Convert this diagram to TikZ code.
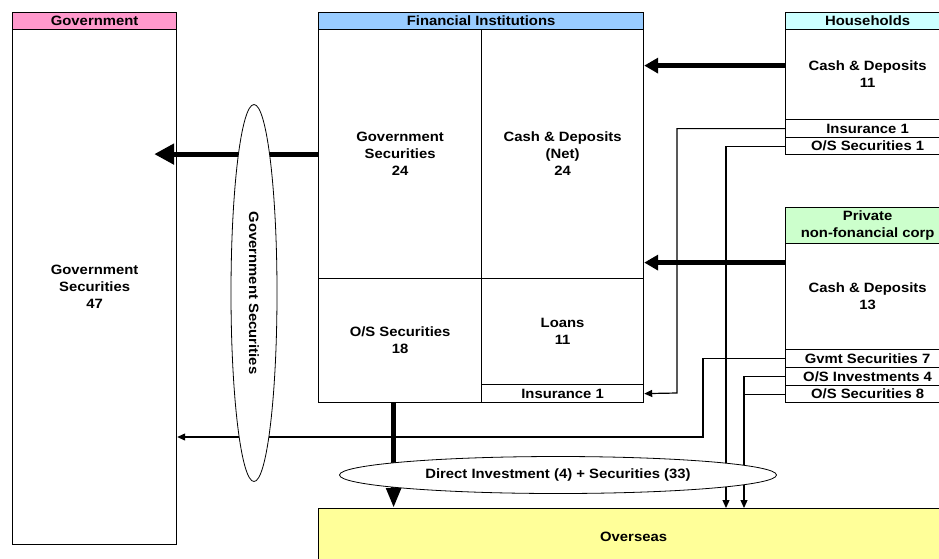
\documentclass[tikz,border=0pt]{standalone}
\usepackage{fontspec}
\setmainfont{Liberation Sans}[FakeStretch=1.1]
\usetikzlibrary{shapes.geometric,arrows.meta}
\definecolor{govpink}{HTML}{FF99CC}
\definecolor{fiblue}{HTML}{99CCFF}
\definecolor{hhcyan}{HTML}{CCFFFF}
\definecolor{pcgreen}{HTML}{CCFFCC}
\definecolor{osyellow}{HTML}{FFFF99}
\begin{document}
\begin{tikzpicture}[x=1pt,y=-1pt,
	font=\bfseries\fontsize{13.5}{17}\selectfont,
	box/.style={draw, line width=1.2pt, fill=white, anchor=north west, inner sep=0pt, align=center},
	thinarrow/.style={line width=1.2pt, -{Triangle[length=8pt,width=7pt]}},
	thinline/.style={line width=1.2pt},
	bigarrow/.style={line width=4.5pt, -{Triangle[length=14pt,width=15pt]}},
	oval/.style={draw, ellipse, line width=0.8pt, fill=white, inner sep=0pt}]
	\clip (0,0) rectangle (939,558);

	% government
	\node[box, fill=govpink, minimum width=164, minimum height=17] (govh) at (12,12) {Government};
	\node[box, minimum width=164, minimum height=515] (govb) at (12,29) {Government\\Securities\\47};

	% financial institutions
	\node[box, fill=fiblue, minimum width=325, minimum height=17] (fih) at (318,12) {Financial Institutions};
	\node[box, minimum width=163, minimum height=249] (figs) at (318,29) {Government\\Securities\\24};
	\node[box, minimum width=162, minimum height=249] (ficd) at (481,29) {Cash \& Deposits\\(Net)\\24};
	\node[box, minimum width=163, minimum height=124] (fios) at (318,278) {O/S Securities\\18};
	\node[box, minimum width=162, minimum height=106] (filn) at (481,278) {Loans\\11};
	\node[box, minimum width=162, minimum height=18] (fiins) at (481,384) {Insurance 1};

	% households
	\node[box, fill=hhcyan, minimum width=164, minimum height=17] (hhh) at (785,12) {Households};
	\node[box, minimum width=164, minimum height=90] (hhb) at (785,29) {Cash \& Deposits\\11};
	\node[box, minimum width=164, minimum height=18] (hhins) at (785,119) {Insurance 1};
	\node[box, minimum width=164, minimum height=17] (hhos) at (785,137) {O/S Securities 1};

	% private non-financial corporations
	\node[box, fill=pcgreen, minimum width=164, minimum height=36] (pch) at (785,207) {Private\\non-fonancial corp};
	\node[box, minimum width=164, minimum height=106] (pcb) at (785,243) {Cash \& Deposits\\13};
	\node[box, minimum width=164, minimum height=18] (pgs) at (785,349) {Gvmt Securities 7};
	\node[box, minimum width=164, minimum height=18] (poi) at (785,367) {O/S Investments 4};
	\node[box, minimum width=164, minimum height=17] (pos) at (785,385) {O/S Securities 8};

	% overseas
	\node[box, fill=osyellow, minimum width=630, minimum height=56] (os) at (318,508) {Overseas};

	% thin flows
	\coordinate (j1) at (677,393);
	\coordinate (j2) at (703,437);
	\coordinate (d1) at (726,508);
	\coordinate (d2) at (744,508);
	\draw[thinarrow] (hhins.west) -| (j1) -- (fiins.east);
	\draw[thinarrow] (hhos.west) -| (d1);
	\draw[thinarrow] (pgs.west) -| (j2) -- (j2 -| govb.east);
	\draw[thinarrow] (poi.west) -| (d2);
	\draw[thinline] (pos.west) -- (pos.west -| d2);

	% thick flows
	\draw[bigarrow] ([yshift=9pt]hhb.west) -- ([yshift=9pt]hhb.west -| ficd.east);
	\draw[bigarrow] ([yshift=34pt]pcb.west) -- ([yshift=34pt]pcb.west -| ficd.east);
	\draw[line width=5pt, -{Triangle[length=20pt,width=20pt]}] (figs.west) -- ([xshift=-23pt]figs.west -| govb.east);
	\draw[line width=5pt, -{Triangle[length=20pt,width=14pt]}] ([xshift=-6.5pt]fios.south) -- ([xshift=-6.5pt]fios.south |- os.north);

	% ovals
	\node[oval, minimum width=377, minimum height=46, rotate=-90] (govell) at (254,293) {Government Securities};
	\node[oval, minimum width=437, minimum height=37] (diell) at (558,475) {Direct Investment (4) + Securities (33)};
\end{tikzpicture}
\end{document}
